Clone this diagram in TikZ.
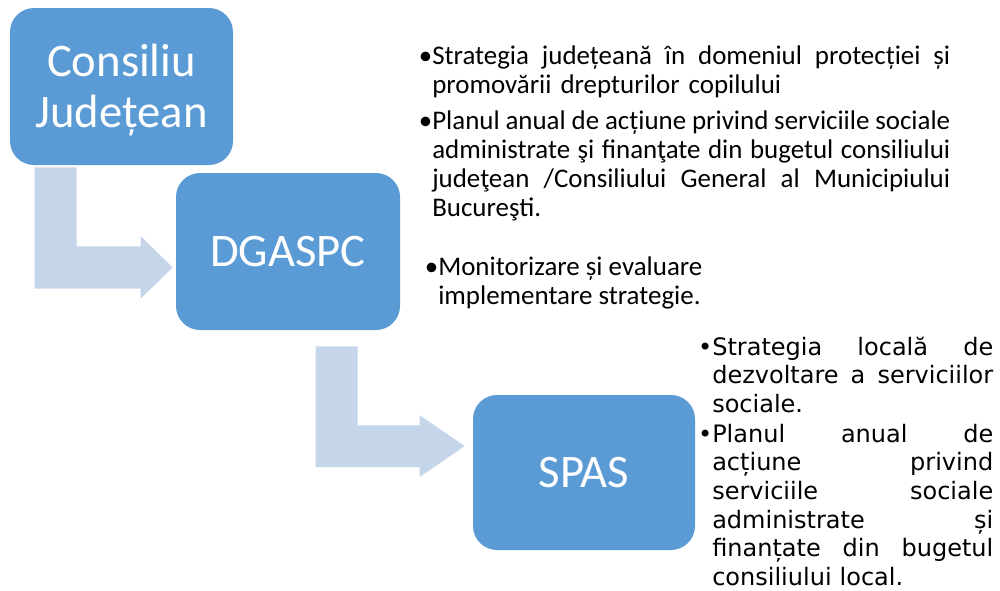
\documentclass[tikz,border=0pt]{standalone}
\usepackage{fontspec}
\setmainfont{Carlito}
\newfontfamily\spasfont{DejaVu Sans}
\usetikzlibrary{calc,positioning}
\definecolor{boxblue}{HTML}{5B9BD5}
\definecolor{elbowblue}{HTML}{C5D5EA}
\newcommand\lnstrut{\rule{0pt}{20pt}}
\newcommand\jline[1]{\makebox[\hsize][s]{\spaceskip=0pt\relax #1}}
\setlength{\lineskiplimit}{-30pt}

\begin{document}
\begin{tikzpicture}[x=0.75pt,y=-0.75pt,
  level/.style={rounded corners=18pt,fill=boxblue,text=white,align=center,
    inner sep=0pt,font=\fontsize{35}{38.25}\selectfont},
  elbow/.style={fill=elbowblue},
  note/.style={anchor=north west,inner sep=0pt,align=left,
    font=\fontsize{20.2}{21.75}\selectfont},
  spasnote/.style={anchor=north west,inner sep=0pt,align=left,text width=210.75pt,
    font=\spasfont\fontsize{18}{21.45}\selectfont}]

\useasboundingbox (0,0) rectangle (1000,590);

\node[level,minimum width=167.25pt,minimum height=117.75pt] (cj) at (121.5,86.5) {\rule{0pt}{29pt}Consiliu\\Județean};
\node[level,minimum width=168pt,minimum height=117.75pt] (dg) at (288,251.5) {DGASPC};
\node[level,minimum width=166.5pt,minimum height=116.25pt] (sp) at (584,472.5) {SPAS};

\fill[elbow] ([shift={(25,2)}]cj.south west) -- ++(42,0) -- ++(0,79) -- ++(64,0) -- ++(0,-10)
  -- ([shift={(-3,16)}]dg.west) -- ++(-32,31) -- ++(0,-10) -- ++(-106,0) -- cycle;
\fill[elbow] ([shift={(140,16)}]dg.south west) -- ++(42,0) -- ++(0,79) -- ++(62,0) -- ++(0,-10)
  -- ([shift={(-8,-26.5)}]sp.west) -- ++(-45,31) -- ++(0,-10) -- ++(-104,0) -- cycle;

\node[note,text width=388.5pt] (cjplan1) at (432,37.33)
  {\lnstrut\llap{\textbullet}\jline{Strategia județeană în domeniul protecției și}\\
   promovării drepturilor copilului};
\node[note,text width=388.5pt] (cjplan2) at (432,102.33)
  {\lnstrut\llap{\textbullet}\jline{Planul anual de acțiune privind serviciile sociale}\\
   \jline{administrate şi finanţate din bugetul consiliului}\\
   \jline{judeţean /Consiliului General al Municipiului}\\
   Bucureşti.};
\node[note] (dgmon) at (438,248.33)
  {\lnstrut\llap{\textbullet}Monitorizare și evaluare\\
   implementare strategie.};

\node[spasnote] (spplan1) at (712,328.33)
  {\lnstrut\llap{\textbullet}\jline{Strategia locală de}\\
   \jline{dezvoltare a serviciilor}\\
   sociale.};
\node[spasnote] (spplan2) at (712,415.33)
  {\lnstrut\llap{\textbullet}\jline{Planul anual de}\\
   \jline{acțiune privind}\\
   \jline{serviciile sociale}\\
   \jline{administrate și}\\
   \jline{finanțate din bugetul}\\
   consiliului local.};
\end{tikzpicture}
\end{document}
